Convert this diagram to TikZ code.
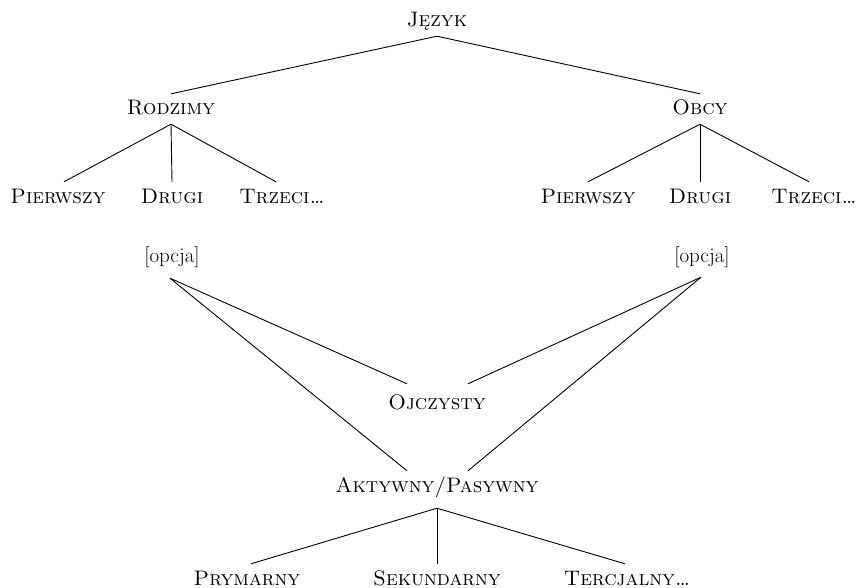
\documentclass[tikz,border=0pt]{standalone}
\usepackage{fontspec}
\begin{document}
\begin{tikzpicture}[x=1pt,y=-1pt,
  lbl/.style={anchor=base, font=\fontsize{21}{24}\selectfont\scshape, text height=15pt, text depth=3pt, inner xsep=0pt, inner ysep=6pt},
  plain/.style={anchor=base, font=\fontsize{21}{24}\selectfont, text height=15pt, text depth=3pt, inner xsep=0pt, inner ysep=6pt},
  edge/.style={line width=0.9pt, black}]
\useasboundingbox (0,0) rectangle (861,588);
% top tree
\node[lbl] (jez) at (437,27) {Język};
\node[lbl] (rod) at (171,115) {Rodzimy};
\node[lbl] (obc) at (700,115) {Obcy};
\node[lbl] (p1) at (58,203) {Pierwszy};
\node[lbl] (d1) at (172,203) {Drugi};
\node[lbl] (t1) at (282,203) {Trzeci\ldots};
\node[lbl] (p2) at (588,203) {Pierwszy};
\node[lbl] (d2) at (700,203) {Drugi};
\node[lbl] (t2) at (814,203) {Trzeci\ldots};
% middle
\node[plain] (oL) at (172,262) {[opcja]};
\node[plain] (oR) at (702,262) {[opcja]};
\node[lbl] (ojc) at (437,409) {Ojczysty};
\node[lbl] (akt) at (437,492) {Aktywny/Pasywny};
\node[lbl] (pry) at (247,585) {Prymarny};
\node[lbl] (sek) at (437,585) {Sekundarny};
\node[lbl] (ter) at (627,585) {Tercjalny\ldots};
% edges
\draw[edge] (jez.south) -- (rod.north);
\draw[edge] (jez.south) -- (obc.north);
\draw[edge] (rod.south) -- ([xshift=6pt]p1.north);
\draw[edge] (rod.south) -- (d1.north);
\draw[edge] (rod.south) -- ([xshift=-6pt]t1.north);
\draw[edge] (obc.south) -- (p2.north);
\draw[edge] (obc.south) -- (d2.north);
\draw[edge] (obc.south) -- ([xshift=-5pt]t2.north);
\draw[edge] ([xshift=-2pt,yshift=-7pt]oL.south) -- ([xshift=-30pt,yshift=4pt]ojc.north);
\draw[edge] ([xshift=-2pt,yshift=-7pt]oL.south) -- ([xshift=-30pt]akt.north);
\draw[edge] ([xshift=-1pt,yshift=-6pt]oR.south) -- ([xshift=31pt,yshift=4pt]ojc.north);
\draw[edge] ([xshift=-1pt,yshift=-6pt]oR.south) -- ([xshift=31pt]akt.north);
\draw[edge] ([yshift=-7pt]akt.south) -- ([xshift=4pt]pry.north);
\draw[edge] ([yshift=-7pt]akt.south) -- (sek.north);
\draw[edge] ([yshift=-7pt]akt.south) -- ([xshift=-2pt]ter.north);
\end{tikzpicture}
\end{document}
